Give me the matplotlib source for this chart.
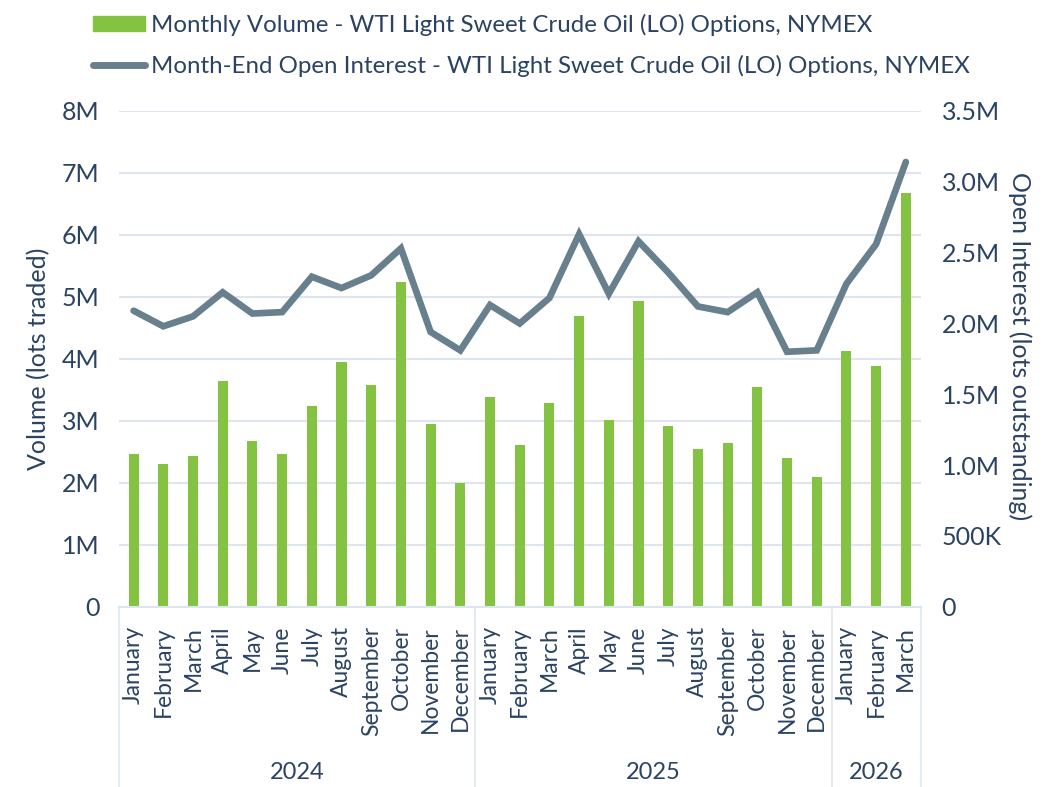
import matplotlib.pyplot as plt
import numpy as np
from matplotlib.lines import Line2D
from matplotlib.patches import Patch

plt.rcParams['font.family'] = ['Lato', 'DejaVu Sans']

months = ['January', 'February', 'March', 'April', 'May', 'June', 'July',
          'August', 'September', 'October', 'November', 'December']
years = ['2024', '2025', '2026']
year_counts = [12, 12, 3]
month_labels = months * 2 + months[:3]

# monthly volume, millions of lots
volume = [2.47, 2.31, 2.44, 3.65, 2.68, 2.47, 3.24, 3.95, 3.58, 5.24, 2.95, 2.00,
          3.39, 2.61, 3.29, 4.69, 3.02, 4.94, 2.92, 2.55, 2.65, 3.55, 2.40, 2.10,
          4.13, 3.89, 6.68]
# month-end open interest, millions of lots
open_interest = [2.09, 1.98, 2.05, 2.22, 2.07, 2.08, 2.33, 2.25, 2.34, 2.53, 1.94, 1.81,
                 2.13, 2.00, 2.18, 2.63, 2.21, 2.58, 2.36, 2.12, 2.08, 2.22, 1.80, 1.81,
                 2.28, 2.56, 3.14]

green = '#84c341'
slate = '#687f8e'
text_c = '#2b4363'
grid_c = '#dde6f0'

fig = plt.figure(figsize=(10.51, 7.87), dpi=100)
ax = fig.add_axes([0.113, 0.229, 0.763, 0.630])
ax2 = ax.twinx()

x = np.arange(len(volume))
ax.bar(x, volume, width=0.34, color=green, zorder=2)
ax2.plot(x, open_interest, color=slate, lw=4.8, solid_capstyle='round',
         solid_joinstyle='miter', zorder=3)

ax.set_xlim(-0.5, len(volume) - 0.5)
ax.set_ylim(0, 8)
ax2.set_ylim(0, 3.5)
ax.set_yticks(range(9))
ax.set_yticklabels(['0'] + ['%dM' % i for i in range(1, 9)])
ax2.set_yticks(np.arange(0, 3.51, 0.5))
ax2.set_yticklabels(['0', '500K', '1.0M', '1.5M', '2.0M', '2.5M', '3.0M', '3.5M'])

ax.grid(axis='y', color=grid_c, lw=1.5, zorder=0)
ax.set_axisbelow(True)
for a in (ax, ax2):
    for s in a.spines.values():
        s.set_visible(False)
    a.tick_params(axis='y', length=0, labelsize=18, labelcolor=text_c)
ax.tick_params(axis='y', pad=14)
ax2.tick_params(axis='y', pad=15)

ax.set_xticks(x)
ax.set_xticklabels(month_labels, rotation=90, fontsize=16.5, color=text_c)
ax.tick_params(axis='x', length=0, pad=14)

ax.set_ylabel('Volume (lots traded)', fontsize=18, color=text_c, labelpad=8)
ax2.set_ylabel('Open Interest (lots outstanding)', fontsize=18, color=text_c,
               rotation=-90, labelpad=22)
ax2.yaxis.set_label_coords(1.138, 0.525)

# category axis with year groups
trans = ax.get_xaxis_transform()
ax.plot([-0.5, len(volume) - 0.5], [0, 0], color=grid_c, lw=1.5, transform=trans,
        clip_on=False)
edges = np.concatenate([[0], np.cumsum(year_counts)]) - 0.5
for e in edges:
    ax.plot([e, e], [0, -0.37], color=grid_c, lw=1.2, transform=trans, clip_on=False)
for i, yr in enumerate(years):
    mid = (edges[i] + edges[i + 1]) / 2
    ax.text(mid, -0.335, yr, transform=trans, ha='center', va='center',
            fontsize=17, color=text_c)

handles = [Patch(color=green),
           Line2D([0], [0], color=slate, lw=5, solid_capstyle='round')]
labels = ['Monthly Volume - WTI Light Sweet Crude Oil (LO) Options, NYMEX',
          'Month-End Open Interest - WTI Light Sweet Crude Oil (LO) Options, NYMEX']
fig.legend(handles, labels, loc='upper left', bbox_to_anchor=(0.068, 1.01),
           frameon=False, fontsize=17.3, labelcolor=text_c, handlelength=2.15,
           handleheight=0.55, handletextpad=0.28, labelspacing=0.78)

fig.savefig('out.png', dpi=100)
